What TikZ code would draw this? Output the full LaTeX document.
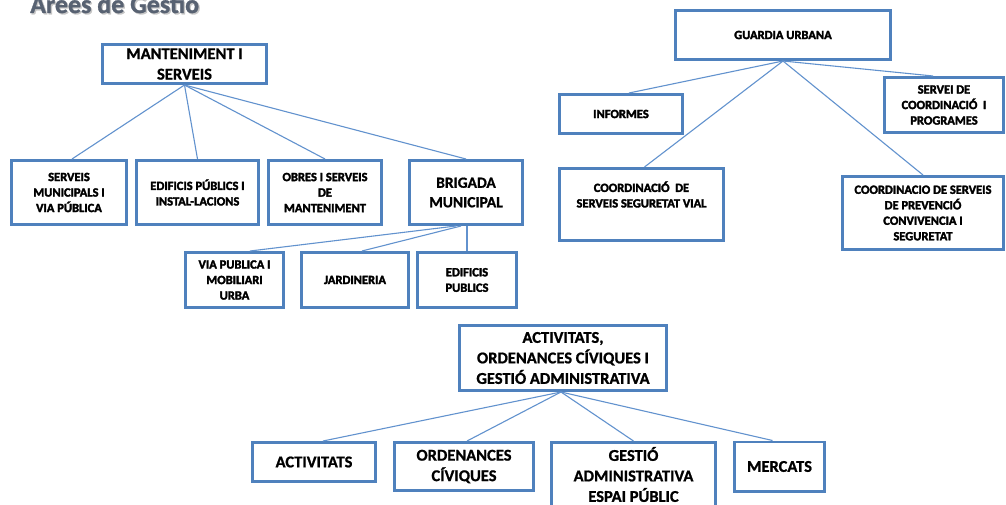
\documentclass[tikz,border=0pt]{standalone}
\usepackage{fontspec}
\setmainfont{Carlito}
\newfontfamily\heavyf{Carlito Bold}[FakeBold=2.5]
\newfontfamily\semif{Carlito Bold}[FakeBold=1]
\usetikzlibrary{calc}
\definecolor{boxc}{RGB}{79,129,189}
\definecolor{linec}{RGB}{98,146,206}
\definecolor{titlec}{RGB}{88,98,114}
\newcommand\fsmall{\heavyf\fontsize{12.5}{15.5}\selectfont}
\newcommand\fmid{\semif\fontsize{15.5}{19.5}\selectfont}
\newcommand\fbig{\semif\fontsize{16.5}{20.5}\selectfont}
\newcommand\ftitle{\semif\fontsize{26}{30}\selectfont}
\begin{document}
\begin{tikzpicture}[x=1pt,y=-1pt,
  box/.style={draw=boxc, line width=2.6pt, fill=white, align=center, inner sep=0pt, font=\fsmall},
  bigbox/.style={box, font=\fbig},
  midbox/.style={box, font=\fmid},
  conn/.style={draw=linec, line width=1.1pt}]
\useasboundingbox (0,0) rectangle (1006,505);
\clip (0,0) rectangle (1006,505);
\fill[white] (0,0) rectangle (1006,505);

% title
\node[anchor=base west, text=gray!45, font=\ftitle, inner sep=0pt] (titsh) at (31.3,14.3) {Arees de Gestió};
\node[anchor=base west, text=titlec, font=\ftitle, inner sep=0pt] (title) at (30,13) {Arees de Gestió};

% Manteniment group
\node[bigbox, minimum width=164.4, minimum height=39.4] (mant) at (184.5,64) {MANTENIMENT I\\SERVEIS};
\node[box, minimum width=115.4, minimum height=64.4] (smun) at (69,192.5) {SERVEIS\\MUNICIPALS I\\VIA PÚBLICA};
\node[box, minimum width=122.4, minimum height=64.4] (edif) at (197.5,192.5) {EDIFICIS PÚBLICS I\\INSTAL-LACIONS};
\node[box, minimum width=113.4, minimum height=64.4] (obres) at (325,192.5) {OBRES I SERVEIS\\DE\\MANTENIMENT};
\node[midbox, minimum width=113.4, minimum height=64.4] (brig) at (466,192.5) {BRIGADA\\MUNICIPAL};
\node[box, minimum width=98.4, minimum height=55.4] (via) at (234.5,280) {VIA PUBLICA I\\MOBILIARI\\URBA};
\node[box, minimum width=107.4, minimum height=55.4] (jard) at (355,280) {JARDINERIA};
\node[box, minimum width=99.4, minimum height=55.4] (epub) at (467,280) {EDIFICIS\\PUBLICS};

% Guardia urbana group
\node[box, minimum width=215.4, minimum height=49.4] (gu) at (783,35) {GUARDIA URBANA};
\node[box, minimum width=123.4, minimum height=39.4] (inf) at (621,114) {INFORMES};
\node[box, minimum width=119.4, minimum height=55.4] (serv) at (944,105) {SERVEI DE\\COORDINACIÓ~~I\\PROGRAMES};
\node[box, minimum width=164.4, minimum height=72.4] (svial) at (641.5,204.5) {COORDINACIÓ~~DE\\SERVEIS SEGURETAT VIAL\\\strut};
\node[box, minimum width=161.4, minimum height=73.4] (prev) at (923,213) {COORDINACIO DE SERVEIS\\DE PREVENCIÓ\\CONVIVENCIA I\\SEGURETAT};

% Activitats group
\node[bigbox, minimum width=207.4, minimum height=65.4] (act) at (563,358) {ACTIVITATS,\\ORDENANCES CÍVIQUES I\\GESTIÓ ADMINISTRATIVA};
\node[bigbox, minimum width=123.4, minimum height=39.4] (a1) at (314,462) {ACTIVITATS};
\node[bigbox, minimum width=139.4, minimum height=48.4] (a2) at (464,466.5) {ORDENANCES\\CÍVIQUES};
\node[bigbox, minimum width=164.4, minimum height=64.4] (a3) at (633.5,474.5) {GESTIÓ\\ADMINISTRATIVA\\ESPAI PÚBLIC};
\node[bigbox, minimum width=90.4, minimum height=49.4] (a4) at (779.5,466.5) {MERCATS};

% connectors
\draw[conn] (mant.south) -- ($(smun.north)+(3,0)$);
\draw[conn] (mant.south) -- (edif.north);
\draw[conn] (mant.south) -- (obres.north);
\draw[conn] (mant.south) -- (brig.north);
\draw[conn] ($(brig.south)+(-10,0)$) -- ($(via.north)+(15.5,0)$);
\draw[conn] ($(brig.south)+(-5,0)$) -- ($(jard.north)+(7,0)$);
\draw[conn] ($(brig.south)+(1,0)$) -- (epub.north);

\draw[conn] (gu.south) -- ($(inf.north)+(8,0)$);
\draw[conn] (gu.south) -- ($(serv.north)+(-11,0)$);
\draw[conn] (gu.south) -- ($(svial.north)+(3,0)$);
\draw[conn] (gu.south) -- (prev.north);

\draw[conn] ($(act.south)+(-2,0)$) -- ($(a1.north)+(9,0)$);
\draw[conn] ($(act.south)+(-2,0)$) -- ($(a2.north)+(3,0)$);
\draw[conn] ($(act.south)+(-2,0)$) -- (a3.north);
\draw[conn] ($(act.south)+(-2,0)$) -- ($(a4.north)+(-7,0)$);
\end{tikzpicture}
\end{document}
